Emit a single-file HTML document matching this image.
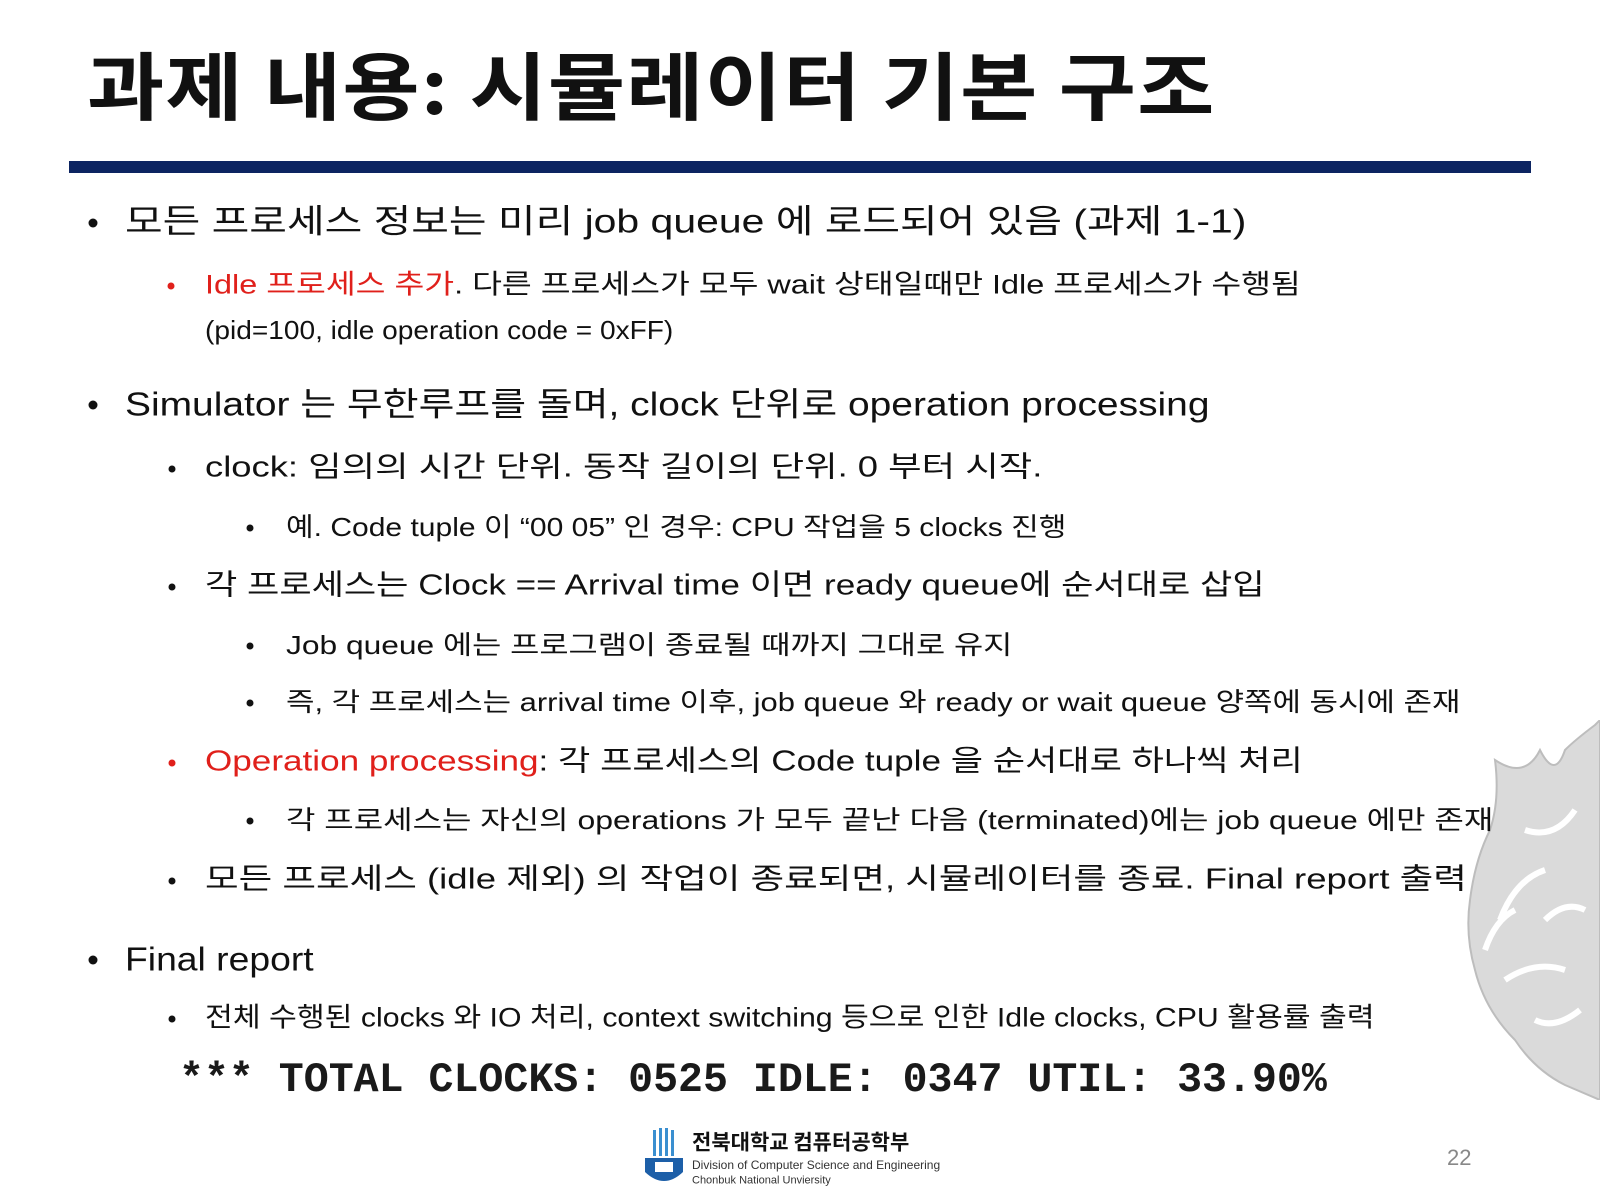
<!DOCTYPE html>
<html><head><meta charset="utf-8"><style>
html,body{margin:0;padding:0;background:#fff}
#slide{position:relative;width:1600px;height:1200px;overflow:hidden;background:#fff;font-family:"Liberation Sans","Noto Sans CJK KR",sans-serif;color:#111}
.t{position:absolute;z-index:2;white-space:nowrap;line-height:1;transform-origin:0 50%;transform:translateY(-50%) scaleX(var(--k,1))}
.b{position:absolute;width:9px;height:9px;border-radius:50%;background:#111;transform:translate(-50%,-50%)}
.red{color:#e0201b}
.l1{font-size:33px}.l2{font-size:29px}.l3{font-size:26px}
</style></head><body>
<div id="slide">
<svg style="position:absolute;left:1455px;top:720px;z-index:1" width="145" height="380" viewBox="0 0 145 380">
<path d="M140 5 L145 0 V380 L110 365 Q80 350 60 320 Q30 290 20 250 Q10 215 15 180 Q20 140 35 110 Q45 80 40 40 Q70 60 85 30 Q100 60 110 30 Q120 20 140 5Z" fill="#dadada" stroke="#bdbdbd" stroke-width="2"/>
<path d="M45 200 Q60 160 90 150 M50 260 Q80 240 110 250 M70 110 Q100 120 120 90 M80 300 Q100 310 125 290 M30 230 Q40 200 60 190 M90 200 Q110 180 130 190" stroke="#fff" stroke-width="6" fill="none"/>
</svg>
<div class="t" style="left:87px;top:83px;font-size:74px;font-weight:bold;font-family:'Noto Sans CJK KR',sans-serif;letter-spacing:1px;--k:1.135">과제 내용: 시뮬레이터 기본 구조</div>
<div style="position:absolute;left:69px;top:161px;width:1462px;height:12px;background:#0c2461"></div>

<div class="b" style="left:93px;top:223px"></div>
<div class="t l1" style="left:125px;top:221px;--k:1.24">모든 프로세스 정보는 미리 job queue 에 로드되어 있음 (과제 1-1)</div>
<div class="b" style="left:171px;top:286px;background:#e0201b;width:7px;height:7px"></div>
<div class="t l2" style="left:205px;top:285px;font-size:27px;--k:1.2"><span class="red">Idle 프로세스 추가</span>. 다른 프로세스가 모두 wait 상태일때만 Idle 프로세스가 수행됨</div>
<div class="t l2" style="left:205px;top:330px;font-size:26px;--k:1.08">(pid=100, idle operation code = 0xFF)</div>

<div class="b" style="left:93px;top:405px"></div>
<div class="t l1" style="left:125px;top:404px;--k:1.18">Simulator 는 무한루프를 돌며, clock 단위로 operation processing</div>
<div class="b" style="left:172px;top:469px;width:7px;height:7px"></div>
<div class="t l2" style="left:205px;top:468px;--k:1.255">clock: 임의의 시간 단위. 동작 길이의 단위. 0 부터 시작.</div>
<div class="b" style="left:250px;top:528px;width:7px;height:7px"></div>
<div class="t l3" style="left:286px;top:527px;--k:1.155">예.  Code tuple 이 “00 05” 인 경우: CPU 작업을 5 clocks 진행</div>
<div class="b" style="left:172px;top:587px;width:7px;height:7px"></div>
<div class="t l2" style="left:205px;top:586px;--k:1.21">각 프로세스는 Clock == Arrival time 이면 ready queue에 순서대로 삽입</div>
<div class="b" style="left:250px;top:646px;width:7px;height:7px"></div>
<div class="t l3" style="left:286px;top:645px;--k:1.22">Job queue 에는 프로그램이 종료될 때까지 그대로 유지</div>
<div class="b" style="left:250px;top:703px;width:7px;height:7px"></div>
<div class="t l3" style="left:286px;top:702px;--k:1.19">즉, 각 프로세스는 arrival time 이후, job queue 와 ready or wait queue 양쪽에 동시에 존재</div>
<div class="b" style="left:172px;top:763px;width:7px;height:7px;background:#e0201b"></div>
<div class="t l2" style="left:205px;top:762px;--k:1.21"><span class="red">Operation processing</span>: 각 프로세스의 Code tuple 을 순서대로 하나씩 처리</div>
<div class="b" style="left:250px;top:821px;width:7px;height:7px"></div>
<div class="t l3" style="left:286px;top:820px;--k:1.23">각 프로세스는 자신의 operations 가 모두 끝난 다음 (terminated)에는 job queue 에만 존재</div>
<div class="b" style="left:172px;top:881px;width:7px;height:7px"></div>
<div class="t l2" style="left:205px;top:880px;--k:1.26">모든 프로세스 (idle 제외) 의 작업이 종료되면, 시뮬레이터를 종료. Final report 출력</div>

<div class="b" style="left:93px;top:960px"></div>
<div class="t l1" style="left:125px;top:959px;--k:1.13">Final report</div>
<div class="b" style="left:172px;top:1019px;width:7px;height:7px"></div>
<div class="t l2" style="left:205px;top:1018px;font-size:27px;--k:1.12">전체 수행된 clocks 와 IO 처리, context switching 등으로 인한 Idle clocks, CPU 활용률 출력</div>
<div class="t" style="left:179px;top:1080px;font-family:'Liberation Mono',monospace;font-size:42px;font-weight:bold;color:#1a1a1a;--k:0.99">*** TOTAL CLOCKS: 0525 IDLE: 0347 UTIL: 33.90%</div>

<svg style="position:absolute;left:643px;top:1128px" width="42" height="62" viewBox="0 0 42 62">
<rect x="10" y="2" width="3" height="26" fill="#3a8fd0"/><rect x="16" y="0" width="3" height="28" fill="#3a8fd0"/><rect x="22" y="0" width="3" height="28" fill="#3a8fd0"/><rect x="28" y="2" width="3" height="26" fill="#3a8fd0"/>
<path d="M2 30 H40 V44 Q21 62 2 44Z" fill="#1d5fa8"/><rect x="12" y="34" width="18" height="10" fill="#fff"/>
</svg>
<div class="t" style="left:692px;top:1142px;font-size:21px;font-weight:bold;font-family:'Noto Sans CJK KR',sans-serif">전북대학교 컴퓨터공학부</div>
<div class="t" style="left:692px;top:1165px;font-size:12px;color:#333">Division of Computer Science and Engineering</div>
<div class="t" style="left:692px;top:1181px;font-size:11px;color:#333">Chonbuk National Unviersity</div>
<div class="t" style="left:1447px;top:1158px;font-size:22px;color:#888">22</div>
</div>
</body></html>
